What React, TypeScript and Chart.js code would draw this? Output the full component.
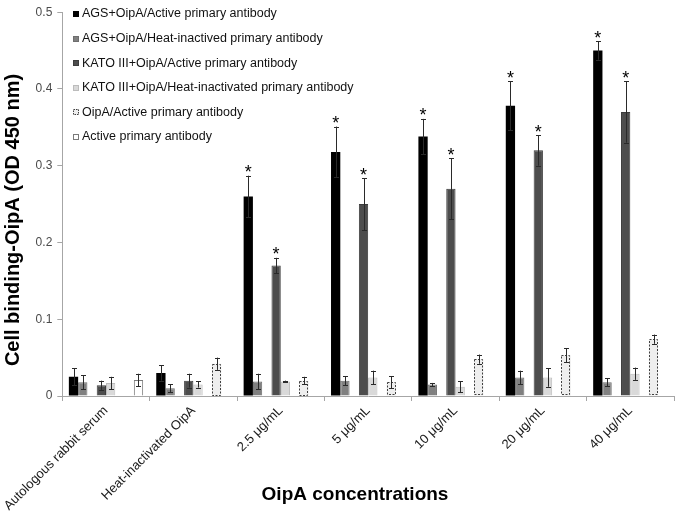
import React, { useEffect, useRef } from "react";
import { Chart, registerables } from "chart.js";

Chart.register(...registerables);

const categories = [
  "Autologous rabbit serum",
  "Heat-inactivated OipA",
  "2.5 μg/mL",
  "5 μg/mL",
  "10 μg/mL",
  "20 μg/mL",
  "40 μg/mL",
];

const agsActive = [0.025, 0.030, 0.260, 0.318, 0.338, 0.378, 0.450];
const agsActiveErr = [0.011, 0.010, 0.027, 0.033, 0.023, 0.032, 0.012];
const agsActiveSig = [false, false, true, true, true, true, true];

const agsHeat = [0.018, 0.010, 0.019, 0.020, 0.015, 0.024, 0.018];
const agsHeatErr = [0.009, 0.005, 0.010, 0.006, 0.002, 0.009, 0.005];

const katoActive = [0.014, 0.020, 0.170, 0.250, 0.270, 0.320, 0.370];
const katoActiveErr = [0.006, 0.009, 0.010, 0.034, 0.040, 0.020, 0.040];
const katoActiveSig = [false, false, true, true, true, true, true];

const katoHeat = [0.017, 0.015, 0.019, 0.024, 0.012, 0.024, 0.029];
const katoHeatErr = [0.008, 0.004, 0.001, 0.009, 0.007, 0.012, 0.008];

const oipaActive = [null, 0.042, 0.020, 0.018, 0.048, 0.053, 0.074];
const oipaActiveErr = [null, 0.008, 0.005, 0.008, 0.006, 0.009, 0.006];

const activeAb = [0.021, null, null, null, null, null, null];
const activeAbErr = [0.008, null, null, null, null, null, null];

const emptySlot = [null, null, null, null, null, null, null];

const yTicks = [0, 0.1, 0.2, 0.3, 0.4, 0.5];

const yTitle = "Cell binding-OipA (OD 450 nm)";
const xTitle = "OipA concentrations";

const FONT = '"Liberation Sans", Arial, sans-serif';

type Series = {
  label: string | null;
  data: (number | null)[];
  err: (number | null)[] | null;
  sig: boolean[] | null;
  bg: string;
  border: string;
  dashed?: boolean;
};

const series: Series[] = [
  { label: "AGS+OipA/Active primary antibody", data: agsActive, err: agsActiveErr, sig: agsActiveSig, bg: "#000000", border: "#000000" },
  { label: "AGS+OipA/Heat-inactived primary antibody", data: agsHeat, err: agsHeatErr, sig: null, bg: "#808080", border: "#6e6e6e" },
  { label: null, data: emptySlot, err: null, sig: null, bg: "#ffffff", border: "#ffffff" },
  { label: "KATO III+OipA/Active primary antibody", data: katoActive, err: katoActiveErr, sig: katoActiveSig, bg: "#4d4d4d", border: "#3c3c3c" },
  { label: "KATO III+OipA/Heat-inactivated primary antibody", data: katoHeat, err: katoHeatErr, sig: null, bg: "#d9d9d9", border: "#bcbcbc" },
  { label: null, data: emptySlot, err: null, sig: null, bg: "#ffffff", border: "#ffffff" },
  { label: "OipA/Active primary antibody", data: oipaActive, err: oipaActiveErr, sig: null, bg: "#eeeeee", border: "#404040", dashed: true },
  { label: "Active primary antibody", data: activeAb, err: activeAbErr, sig: null, bg: "#ffffff", border: "#7a7a7a" },
];

const overlayPlugin = {
  id: "overlay",
  afterDatasetsDraw(chart: any) {
    const ctx = chart.ctx as CanvasRenderingContext2D;
    const yScale = chart.scales.y;
    series.forEach((s, di) => {
      const meta = chart.getDatasetMeta(di);
      s.data.forEach((v, i) => {
        if (v == null) return;
        const el = meta.data[i] as any;
        if (!el) return;
        const x = el.x;
        const w = el.width;
        if (s.dashed) {
          ctx.save();
          ctx.strokeStyle = s.border;
          ctx.lineWidth = 1;
          ctx.setLineDash([2, 1.5]);
          ctx.strokeRect(Math.round(x - w / 2) + 0.5, Math.round(el.y) + 0.5, Math.round(w) - 1, Math.round(el.base - el.y) - 1);
          ctx.restore();
        }
        const e = s.err ? s.err[i] : null;
        if (e == null) return;
        const yTop = yScale.getPixelForValue(v + e);
        const yBot = yScale.getPixelForValue(Math.max(0, v - e));
        const cx = Math.round(x) + 0.5;
        ctx.save();
        ctx.strokeStyle = "#2a2a2a";
        ctx.lineWidth = 1;
        ctx.beginPath();
        ctx.moveTo(cx, yTop);
        ctx.lineTo(cx, yBot);
        ctx.moveTo(cx - 2.5, Math.round(yTop) + 0.5);
        ctx.lineTo(cx + 2.5, Math.round(yTop) + 0.5);
        ctx.moveTo(cx - 2.5, Math.round(yBot) + 0.5);
        ctx.lineTo(cx + 2.5, Math.round(yBot) + 0.5);
        ctx.stroke();
        if (s.sig && s.sig[i]) {
          ctx.fillStyle = "#000000";
          ctx.font = `18px ${FONT}`;
          ctx.textAlign = "center";
          ctx.textBaseline = "alphabetic";
          ctx.fillText("*", x, yTop + 2.5);
        }
        ctx.restore();
      });
    });
  },
  afterDraw(chart: any) {
    const ctx = chart.ctx as CanvasRenderingContext2D;
    ctx.save();
    // legend
    const legendItems = series.filter((s) => s.label);
    legendItems.forEach((s, k) => {
      const cy = 14 + k * 24.6;
      const bx = 73;
      const bs = 6;
      ctx.fillStyle = s.bg;
      ctx.fillRect(bx, Math.round(cy - bs / 2), bs, bs);
      ctx.strokeStyle = s.border;
      ctx.lineWidth = 1;
      if (s.dashed) ctx.setLineDash([1.5, 1]);
      ctx.strokeRect(bx + 0.5, Math.round(cy - bs / 2) + 0.5, bs - 1, bs - 1);
      ctx.setLineDash([]);
      ctx.fillStyle = "#111111";
      ctx.font = `12.5px ${FONT}`;
      ctx.textAlign = "left";
      ctx.textBaseline = "middle";
      ctx.fillText(s.label as string, 82, cy);
    });
    // axis titles
    ctx.fillStyle = "#000000";
    ctx.font = `bold 20px ${FONT}`;
    ctx.textAlign = "center";
    ctx.textBaseline = "middle";
    ctx.save();
    ctx.translate(13, 220);
    ctx.rotate(-Math.PI / 2);
    ctx.fillText(yTitle, 0, 0);
    ctx.restore();
    ctx.font = `bold 19px ${FONT}`;
    ctx.fillText(xTitle, 355, 495);
    ctx.restore();
  },
};

export default function App() {
  const ref = useRef<HTMLCanvasElement | null>(null);
  useEffect(() => {
    if (!ref.current) return;
    const chart = new Chart(ref.current, {
      type: "bar",
      data: {
        labels: categories,
        datasets: series.map((s) => ({
          label: s.label || "",
          data: s.data as any,
          backgroundColor: s.bg,
          borderColor: s.border,
          borderWidth: s.dashed || s.bg === "#000000" ? 0 : 1,
          categoryPercentage: 0.85,
          barPercentage: 1,
        })),
      },
      options: {
        responsive: false,
        animation: false,
        layout: { padding: { top: 9, right: 1, left: 0, bottom: 0 } },
        plugins: {
          legend: { display: false },
          tooltip: { enabled: false },
        },
        scales: {
          x: {
            grid: { display: true, drawOnChartArea: false, drawTicks: true, tickLength: 5, color: "#a6a6a6", offset: true },
            border: { color: "#a6a6a6" },
            ticks: {
              autoSkip: false,
              minRotation: 45,
              maxRotation: 45,
              padding: 2,
              color: "#1a1a1a",
              font: { family: FONT, size: 13 },
            },
            afterFit: (scale: any) => {
              scale.height = 118;
            },
          },
          y: {
            min: 0,
            max: 0.5,
            afterBuildTicks: (scale: any) => {
              scale.ticks = yTicks.map((v) => ({ value: v }));
            },
            grid: { drawOnChartArea: false, drawTicks: true, tickLength: 5, color: "#a6a6a6" },
            border: { color: "#a6a6a6" },
            ticks: {
              padding: 5,
              color: "#4a4a4a",
              font: { family: FONT, size: 12 },
              callback: (v: any) => String(Math.round(Number(v) * 10) / 10),
            },
            afterFit: (scale: any) => {
              scale.width = 61;
            },
          },
        },
      },
      plugins: [overlayPlugin],
    });
    return () => chart.destroy();
  }, []);
  return (
    <div style={{ position: "absolute", left: 0, top: 0, width: 675, height: 514, background: "#ffffff" }}>
      <canvas ref={ref} width={675} height={514} style={{ display: "block" }} />
    </div>
  );
}
